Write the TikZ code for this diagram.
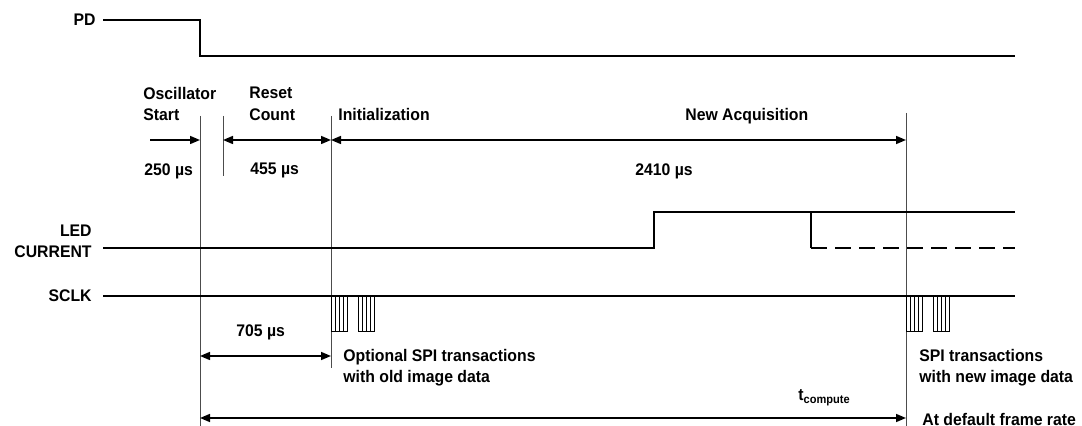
\documentclass[tikz,border=0pt]{standalone}
\usepackage{fontspec}
\setmainfont{Liberation Sans}[FakeStretch=0.94]
\usepackage{tikz}
\usetikzlibrary{arrows.meta, positioning}

\begin{document}
\begin{tikzpicture}[
  x=0.5pt, y=-0.5pt,
  >={Triangle[length=5pt, width=4pt]},
  font=\fontsize{8.4}{10.6}\selectfont\bfseries,
  sig/.style={line width=0.75pt},
  tick/.style={line width=0.5pt, black!70},
  dim/.style={line width=0.75pt},
  txt/.style={inner sep=0pt, align=left, anchor=north west},
  signame/.style={inner sep=0pt, align=right, anchor=east},
  burst/.style={line width=0.5pt},
]
\useasboundingbox (0,0) rectangle (1082,426);

% --- Time marks ---
\coordinate (T0) at (200,116);
\coordinate (T1) at (223,116);
\coordinate (T2) at (331,116);
\coordinate (T3) at (906,113);

\draw[tick] (T0) -- ++(0,310);
\draw[tick] (T1) -- ++(0,60);
\draw[tick] (T2) -- ++(0,252);
\draw[tick] (T3) -- ++(0,313);

% --- Signal names ---
\node[signame] (PD) at (96,20) {PD};
\node[signame] (LED) at (92,241) {LED\\CURRENT};
\node[signame] (SCLK) at (92,296) {SCLK};

% --- Signals ---
\draw[sig] (PD.east) ++(7,0) -- (T0 |- 0,20) -- (T0 |- 0,56) -- (1015,56);
\draw[sig] (LED.east) ++(11,7) -- (654,248) -- (654,212) -- (1015,212);
\draw[sig] (811,212) -- (811,248);
\draw[sig, dash pattern=on 8pt off 4pt] (811,248) -- (1015,248);
\draw[sig] (SCLK.east) ++(11,0) -- (1015,296);
\draw[line width=1.1pt] (297,296) -- (T2 |- 0,296);
\draw[line width=1.1pt] (873,296) -- (T3 |- 0,296);

% --- SPI bursts ---
\foreach \x in {331,358,906,933} {
  \draw[burst] (\x,296) rectangle ++(16,36);
  \foreach \d in {4,8,12}
    \draw[line width=0.3pt] (\x+\d,296) -- ++(0,36);
}

% --- Phases ---
\node[txt] (OSC) at (143,87) {Oscillator\\Start};
\node[txt] (RST) at (249,87) {Reset\\Count};
\node[txt] (INIT) at (338,108) {Initialization};
\node[txt] (ACQ) at (685,108) {New Acquisition};

\draw[dim, ->] (150,140) -- (T0 |- 0,140);
\draw[dim, <->] (T1 |- 0,140) -- (T2 |- 0,140);
\draw[dim, <->] (T2 |- 0,140) -- (T3 |- 0,140);

\node[txt] (D250) at (144,163) {250 µs};
\node[txt] (D455) at (250,163) {455 µs};
\node[txt] (D2410) at (635,163) {2410 µs};

% --- Bottom dimensions ---
\node[txt] (D705) at (236,324) {705 µs};
\draw[dim, <->] (T0 |- 0,356) -- (T2 |- 0,356);
\draw[dim, <->] (T0 |- 0,418) -- (T3 |- 0,418);

\node[txt] (OLD) at (343,349) {Optional SPI transactions\\with old image data};
\node[txt] (NEW) at (919,349) {SPI transactions\\with new image data};
\node[inner sep=0pt, anchor=base west] (TC) at (798,401) {t\textsubscript{compute}};
\node[txt] (RATE) at (922,413) {At default frame rate};

\end{tikzpicture}
\end{document}
